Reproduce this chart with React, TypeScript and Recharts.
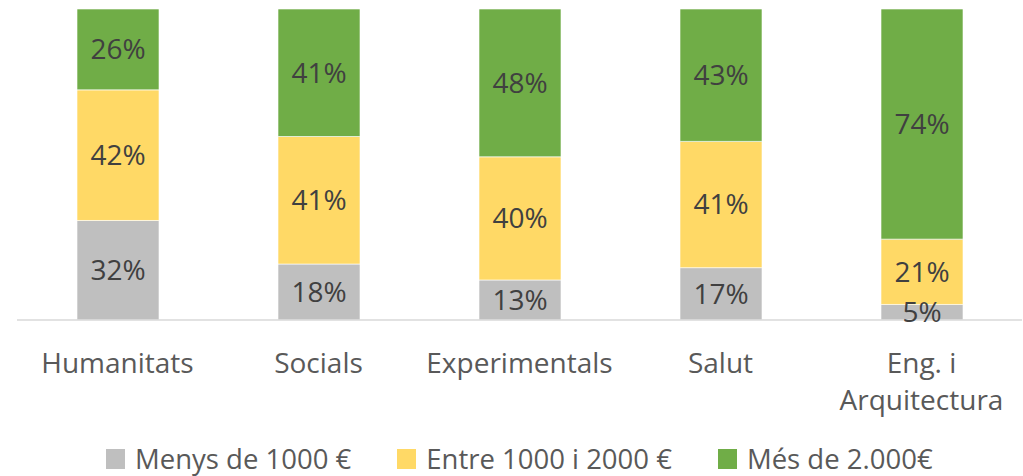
import React from "react";
import { BarChart, Bar, XAxis, YAxis, Legend, LabelList } from "recharts";

const categories = ["Humanitats", "Socials", "Experimentals", "Salut", "Eng. i\nArquitectura"];
const menys1000 = [32, 18, 13, 17, 5];
const entre1000i2000 = [42, 41, 40, 41, 21];
const mes2000 = [26, 41, 48, 43, 74];

const seriesNames = ["Menys de 1000 €", "Entre 1000 i 2000 €", "Més de 2.000€"];
const seriesColors = ["#BFBFBF", "#FFD966", "#70AD47"];
const seriesKeys = ["menys", "entre", "mes"];

const data = categories.map((c, i) => ({
  name: c,
  menys: menys1000[i],
  entre: entre1000i2000[i],
  mes: mes2000[i],
}));

const FONT = "'Open Sans', sans-serif";

const CustomTick = (props: any) => {
  const { x, y, payload } = props;
  const lines = String(payload.value).split("\n");
  return (
    <text x={x} y={y} textAnchor="middle" fill="#595959" fontSize={28} fontFamily={FONT}>
      {lines.map((l, i) => (
        <tspan key={i} x={x} y={y + 53 + i * 37}>
          {l}
        </tspan>
      ))}
    </text>
  );
};

const CustomLegend = () => (
  <div
    style={{
      height: 50,
      width: "100%",
      boxSizing: "border-box",
      paddingTop: 23,
      paddingLeft: 89,
      display: "flex",
      alignItems: "flex-start",
      fontFamily: FONT,
      fontSize: 27.5,
      color: "#595959",
    }}
  >
    {seriesNames.map((n, i) => (
      <div key={n} style={{ display: "flex", alignItems: "center", height: 20, marginRight: 46 }}>
        <div style={{ width: 19, height: 20, background: seriesColors[i], marginRight: 10, flexShrink: 0 }} />
        <span style={{ lineHeight: "20px", whiteSpace: "nowrap" }}>{n}</span>
      </div>
    ))}
  </div>
);

export default function App() {
  return (
    <div style={{ position: "absolute", left: 0, top: 0, width: 1023, height: 476, background: "#fff" }}>
      <BarChart
        width={1023}
        height={476}
        data={data}
        stackOffset="expand"
        margin={{ top: 9, right: 1, left: 17, bottom: 0 }}
      >
        <XAxis
          dataKey="name"
          axisLine={{ stroke: "#D9D9D9", strokeWidth: 1.5 }}
          tickLine={false}
          tickSize={0}
          tickMargin={0}
          height={106}
          interval={0}
          tick={<CustomTick />}
        />
        <YAxis hide domain={[0, 1]} />
        <Legend verticalAlign="bottom" height={50} content={<CustomLegend />} />
        {seriesKeys.map((k, i) => (
          <Bar
            key={k}
            dataKey={k}
            name={seriesNames[i]}
            stackId="a"
            fill={seriesColors[i]}
            stroke="#ffffff"
            strokeOpacity={0.6}
            strokeWidth={1}
            barSize={82}
            isAnimationActive={false}
          >
            <LabelList
              dataKey={k}
              position="center"
              formatter={(v: any) => `${v}%`}
              fill="#404040"
              fontSize={28}
              fontFamily={FONT}
            />
          </Bar>
        ))}
      </BarChart>
    </div>
  );
}
